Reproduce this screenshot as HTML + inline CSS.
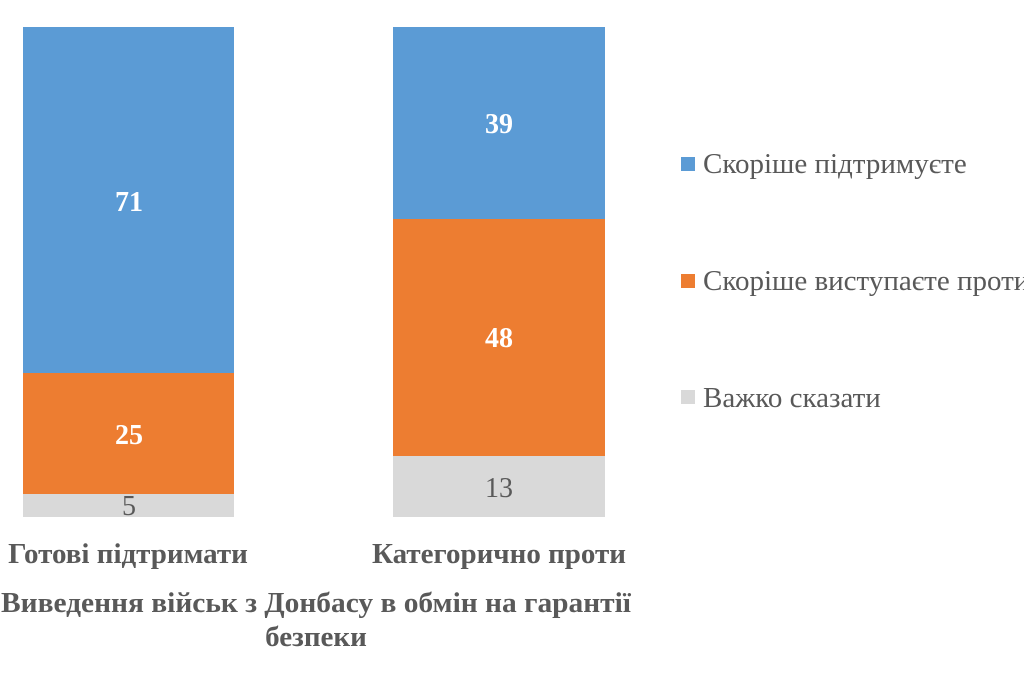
<!DOCTYPE html>
<html><head><meta charset="utf-8"><style>
body{margin:0;width:1024px;height:682px;background:#fff;overflow:hidden}
svg text{font-family:"Liberation Serif","DejaVu Serif",serif}
</style></head><body>
<svg width="1024" height="682" xmlns="http://www.w3.org/2000/svg">
<rect x="23" y="27" width="211" height="346" fill="#5b9bd5"/>
<rect x="23" y="373" width="211" height="121" fill="#ed7d31"/>
<rect x="23" y="494" width="211" height="23" fill="#d9d9d9"/>
<rect x="393" y="27" width="212" height="192" fill="#5b9bd5"/>
<rect x="393" y="219" width="212" height="237" fill="#ed7d31"/>
<rect x="393" y="456" width="212" height="61" fill="#d9d9d9"/>
<g font-size="28" font-weight="bold" fill="#fff" text-anchor="middle">
<text x="129" y="211">71</text>
<text x="129" y="444">25</text>
<text x="499" y="133">39</text>
<text x="499" y="347">48</text>
</g>
<g font-size="28" fill="#595959" text-anchor="middle">
<text x="129" y="515">5</text>
<text x="499" y="497">13</text>
</g>
<g font-size="29" font-weight="bold" fill="#595959" text-anchor="middle">
<text x="128" y="563">Готові підтримати</text>
<text x="499" y="563">Категорично проти</text>
<text x="316" y="612" textLength="630" lengthAdjust="spacingAndGlyphs">Виведення військ з Донбасу в обмін на гарантії</text>
<text x="316" y="646">безпеки</text>
</g>
<rect x="681" y="157" width="14" height="14" fill="#5b9bd5"/>
<rect x="681" y="274" width="14" height="14" fill="#ed7d31"/>
<rect x="681" y="390" width="14" height="14" fill="#d9d9d9"/>
<g font-size="29" fill="#595959">
<text x="703" y="173">Скоріше підтримуєте</text>
<text x="703" y="290">Скоріше виступаєте проти</text>
<text x="703" y="407">Важко сказати</text>
</g>
</svg>
</body></html>
